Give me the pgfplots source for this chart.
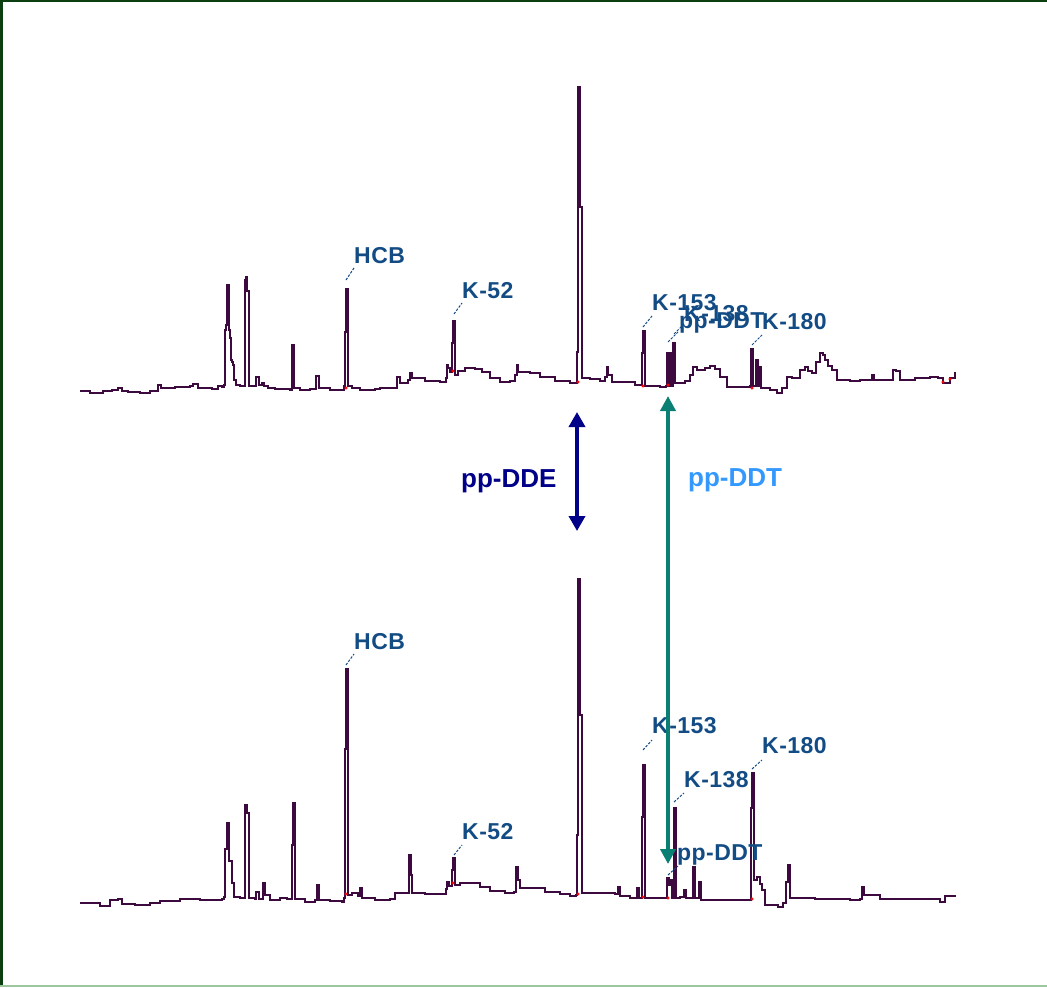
\documentclass[border=0pt]{standalone}
\usepackage{fontspec}
\setmainfont{Liberation Sans}
\newfontfamily\labfont[LetterSpace=2]{Liberation Sans}
\usepackage{pgfplots}
\pgfplotsset{compat=1.18}
\usetikzlibrary{arrows.meta}
\definecolor{trace}{HTML}{3D0A40}
\definecolor{lab}{HTML}{134C84}
\definecolor{ddecol}{HTML}{000088}
\definecolor{ddtcol}{HTML}{3399FF}
\definecolor{teal2}{HTML}{0A7F74}
\definecolor{bord}{HTML}{0B3F10}
\definecolor{bordl}{HTML}{9CC79C}
\tikzset{lbl/.style={text=lab, inner sep=0pt, anchor=base west, font=\labfont\bfseries\fontsize{23bp}{27bp}\selectfont}}
\begin{document}
\begin{tikzpicture}
\begin{axis}[
  scale only axis, width=1047bp, height=987bp,
  xmin=0, xmax=1047, ymin=0, ymax=987, y dir=reverse,
  axis lines=none, ticks=none, clip=false,
]
\fill[white] (axis cs:0,0) rectangle (axis cs:1047,987);
% borders
\fill[bord] (axis cs:0,0) rectangle (axis cs:1047,2.5);
\fill[bord] (axis cs:0,0) rectangle (axis cs:2.5,987);
\fill[bordl] (axis cs:0,985) rectangle (axis cs:1047,987);

% top trace
\addplot[trace, const plot, line width=1.6bp] coordinates {
(80,391) (88,391) (90,393) (100,393) (103,391) (112,390) (118,388) (122,391) (128,392) (140,393) (150,391) (158,385) (161,388) (175,387) (190,386) (193,384) (198,388) (212,389) (218,386) (222,387)
(224,385) (225,330) (226,325) (227,285) (228,285) (229,330) (230,338) (231,360) (232,362) (233,365) (234,380) (236,385) (240,386) (244,386)
(245,280) (246,277) (247,291) (248,291) (249,386) (254,386) (256,377) (258,377) (259,385) (262,383) (264,386) (268,388) (275,389) (285,389) (290,390)
(292,345) (293,345) (294,388) (300,390) (310,389) (316,376) (318,376) (319,388) (330,390) (340,390)
(344,386) (345,332) (346,289) (347,289) (348,386) (352,388) (360,390) (375,389) (380,388) (395,388) (397,377) (399,377) (400,383) (408,380) (410,373) (412,378) (425,381) (440,382) (446,378) (447,365) (448,368) (450,372)
(452,343) (453,321) (454,321) (455,375) (458,371) (465,368) (475,369) (482,372) (490,378) (500,382) (510,381) (515,375) (517,365) (518,372) (530,373) (540,377) (555,381) (570,383) (576,383)
(577,352) (578,87) (579,87) (580,207) (581,207) (582,378) (590,379) (600,381) (605,377) (607,367) (608,375) (612,382) (625,382) (635,385) (641,385)
(642,353) (643,331) (644,331) (645,386) (650,386) (660,387) (666,386) (667,353) (668,353) (669,386) (670,353) (671,353) (672,386) (673,343) (674,343) (675,383) (685,381) (690,375) (693,367) (697,370) (705,368) (710,366) (715,369) (720,377) (727,387) (740,387) (750,386)
(751,349) (752,349) (753,386) (756,360) (757,360) (758,386) (759,367) (760,367) (761,388) (770,390) (777,393) (782,388) (787,377) (792,378) (800,370) (805,367) (808,371) (812,373) (816,362) (820,353) (823,355) (825,360) (828,366) (832,370) (837,380) (850,381) (860,380) (870,380) (872,375) (874,380) (890,380) (893,370) (896,371) (900,380) (915,378) (930,377) (938,378) (943,383) (950,378) (955,372)
};

% bottom trace
\addplot[trace, const plot, line width=1.6bp] coordinates {
(80,903) (95,903) (100,906) (107,906) (110,900) (118,899) (122,904) (135,905) (140,905) (150,903) (160,901) (170,901) (180,899) (190,899) (200,900) (215,900) (222,899)
(224,897) (225,849) (226,849) (227,823) (228,823) (229,861) (231,861) (232,883) (233,883) (234,897) (240,898) (244,898)
(245,805) (246,805) (247,813) (248,813) (249,898) (255,899) (256,892) (258,892) (259,899) (263,883) (265,895) (270,900) (280,898) (287,899)
(292,845) (293,803) (294,803) (295,899) (305,902) (315,900) (317,885) (318,885) (319,900) (330,901) (342,902)
(344,898) (345,749) (346,669) (347,669) (348,895) (352,893) (358,896) (360,888) (362,898) (375,900) (390,899) (395,893) (405,893) (408,893)
(409,855) (410,855) (411,875) (412,893) (425,894) (440,894) (446,889) (447,882) (449,886) (452,870) (453,858) (454,858) (455,885) (460,883) (470,883) (480,887) (490,891) (505,893) (514,892) (516,867) (517,867) (518,880) (520,888) (535,888) (545,892) (560,894) (570,896) (576,895)
(577,835) (578,579) (579,579) (580,715) (581,715) (582,893) (600,893) (615,894) (618,887) (620,896) (630,898) (636,898) (637,888) (639,898) (641,898)
(642,817) (643,765) (644,765) (645,898) (655,898) (665,898) (667,878) (668,878) (669,885) (670,880) (672,898) (674,808) (675,808) (676,898) (680,897) (684,890) (686,898) (692,898) (693,867) (694,867) (695,898) (699,882) (701,900) (720,900) (740,900) (750,900)
(751,808) (752,773) (753,773) (754,880) (757,877) (759,877) (760,884) (762,890) (765,905) (775,905) (778,907) (783,903) (786,882) (788,865) (789,865) (790,898) (800,898) (815,899) (830,899) (850,900) (860,899) (862,887) (864,895) (880,899) (900,899) (920,899) (935,899) (940,902) (945,896) (955,895)
};

% integration markers
\addplot[only marks, mark=*, mark size=1.3bp, red, draw=none] coordinates {
(346,388) (453,371) (578,382) (643,386) (668,385) (752,388) (943,382) (950,379)
(346,894) (453,883) (578,894) (643,897) (668,898) (752,899)
};

% leader lines
\foreach \a/\b/\c/\d in {346/280/354/268, 454/314/462/303, 643/327/652/316, 668/342/678/332, 674/334/684/324, 752/345/762/335,
  346/665/354/654, 454/855/462/845, 643/750/652/740, 674/802/684/793, 668/875/678/866, 752/769/762/760}{
  \edef\tmp{\noexpand\draw[lab, line width=1bp, dash pattern=on 2.5bp off 1.5bp] (axis cs:\a,\b) -- (axis cs:\c,\d);}\tmp
}

% labels top
\node[lbl] at (axis cs:354,263) {HCB};
\node[lbl] at (axis cs:462,298) {K-52};
\node[lbl] at (axis cs:652,310) {K-153};
\node[lbl] at (axis cs:684,321) {K-138};
\node[lbl] at (axis cs:679,328) {pp-DDT};
\node[lbl] at (axis cs:762,329) {K-180};
% labels bottom
\node[lbl] at (axis cs:354,649) {HCB};
\node[lbl] at (axis cs:462,839) {K-52};
\node[lbl] at (axis cs:652,733) {K-153};
\node[lbl] at (axis cs:684,787) {K-138};
\node[lbl] at (axis cs:677,860) {pp-DDT};
\node[lbl] at (axis cs:762,753) {K-180};

% arrows
\addplot[ddecol, line width=3.5bp, {Triangle[width=16bp,length=15bp]}-{Triangle[width=16bp,length=15bp]}] coordinates {(577,412) (577,531)};
\addplot[teal2, line width=4bp, {Triangle[width=15bp,length=15bp]}-{Triangle[width=15bp,length=15bp]}] coordinates {(668,396) (668,864)};

\node[ddecol, inner sep=0pt, anchor=base west, font=\bfseries\fontsize{26bp}{30bp}\selectfont] at (axis cs:461,487) {pp-DDE};
\node[ddtcol, inner sep=0pt, anchor=base west, font=\bfseries\fontsize{26bp}{30bp}\selectfont] at (axis cs:688,486) {pp-DDT};
\end{axis}
\end{tikzpicture}
\end{document}
